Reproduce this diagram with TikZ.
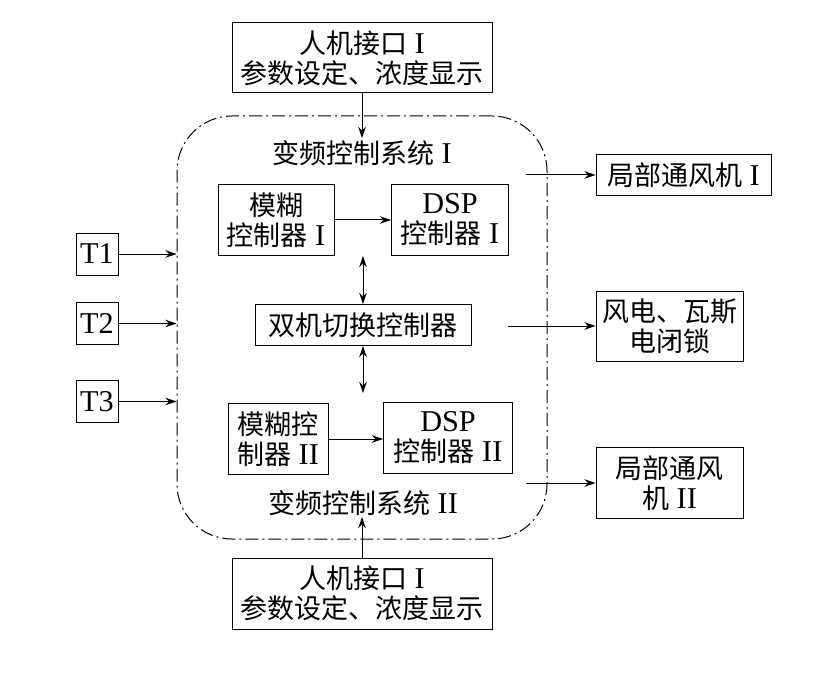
\documentclass[tikz,border=0pt]{standalone}
\usepackage{fontspec}
\setmainfont{Liberation Serif}[Scale=1.12]
\newfontfamily\cjk{Noto Sans CJK SC}
\usetikzlibrary{arrows.meta}
\newcommand\zh[1]{{\cjk #1}}
\begin{document}
\begin{tikzpicture}[x=1pt,y=-1pt,
  txt/.style={inner sep=0pt, align=center, font=\fontsize{27}{30}\selectfont},
  box/.style={txt, draw, line width=1pt},
  arr/.style={-{Stealth[length=11pt,width=7.5pt]}, line width=1pt},
  darr/.style={{Stealth[length=11pt,width=7.5pt]}-{Stealth[length=11pt,width=7.5pt]}, line width=1pt},
  frame/.style={draw, line width=1pt, rounded corners=55pt, dash pattern=on 13pt off 4pt on 2pt off 4pt}]
\useasboundingbox (0,0) rectangle (828,674);
% container
\node[frame, minimum width=370pt, minimum height=423pt, inner sep=0pt] (sys) at (362,327.5) {};
% boxes
\node[box, minimum width=260pt, minimum height=70pt] (top) at (362,58) {\zh{人机接口} I\\\zh{参数设定、浓度显示}};
\node[txt] (sys1) at (362,153) {\zh{变频控制系统} I};
\node[box, minimum width=116pt, minimum height=70pt] (fz1) at (276,220) {\zh{模糊}\\\zh{控制器} I};
\node[box, minimum width=117pt, minimum height=70pt] (dsp1) at (450,220) {DSP\\\zh{控制器} I};
\node[box, minimum width=42pt, minimum height=42pt] (t1) at (97,254) {T1};
\node[box, minimum width=42pt, minimum height=42pt] (t2) at (97,323.5) {T2};
\node[box, minimum width=42pt, minimum height=42pt] (t3) at (97,401.5) {T3};
\node[box, minimum width=216pt, minimum height=41pt] (sw) at (363,325) {\zh{双机切换控制器}};
\node[box, minimum width=100pt, minimum height=71pt] (fz2) at (278,439) {\zh{模糊控}\\\zh{制器} II};
\node[box, minimum width=129pt, minimum height=71pt] (dsp2) at (448,438) {DSP\\\zh{控制器} II};
\node[txt] (sys2) at (363,503) {\zh{变频控制系统} II};
\node[box, minimum width=260pt, minimum height=71pt] (bot) at (362,593.5) {\zh{人机接口} I\\\zh{参数设定、浓度显示}};
\node[box, minimum width=175pt, minimum height=41pt] (fan1) at (683.5,175.5) {\zh{局部通风机} I};
\node[box, minimum width=147pt, minimum height=70pt] (lock) at (669.5,326) {\zh{风电、瓦斯}\\\zh{电闭锁}};
\node[box, minimum width=147pt, minimum height=71pt] (fan2) at (669.5,483) {\zh{局部通风}\\\zh{机} II};
% free ends
\coordinate (a1) at (362,138);
\coordinate (a2) at (362,517);
\coordinate (d1) at (363,256);
\coordinate (d2) at (363,393);
\coordinate (r1) at (526,175);
\coordinate (r2) at (508,326);
\coordinate (r3) at (526,483);
% connectors
\draw[arr] (top.south) -- (a1);
\draw[arr] (bot.north) -- (a2);
\draw[arr] (t1.east) -- (t1.east -| sys.west);
\draw[arr] (t2.east) -- (t2.east -| sys.west);
\draw[arr] (t3.east) -- (t3.east -| sys.west);
\draw[arr] (fz1.east) -- (fz1.east -| dsp1.west);
\draw[arr] (fz2.east |- 0,439) -- (dsp2.west |- 0,439);
\draw[darr] (d1) -- (sw.north -| d1);
\draw[darr] (sw.south -| d2) -- (d2);
\draw[arr] (r1) -- (r1 -| fan1.west);
\draw[arr] (r2) -- (lock.west);
\draw[arr] (r3) -- (r3 -| fan2.west);
\end{tikzpicture}
\end{document}
